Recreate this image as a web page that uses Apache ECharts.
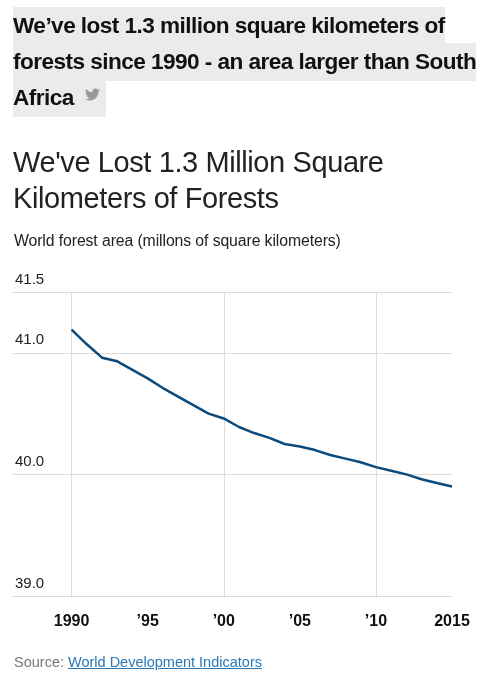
<!DOCTYPE html>
<html>
<head>
<meta charset="utf-8">
<script src="https://cdn.jsdelivr.net/npm/echarts@6/dist/echarts.min.js"></script>
<style>
  html, body { margin: 0; padding: 0; background: #fff; }
  #wrap { position: relative; width: 490px; height: 680px; overflow: hidden; font-family: "Liberation Sans", Arial, sans-serif; }
  #chart { position: absolute; left: 0; top: 0; width: 490px; height: 680px; }
  .hl { position: absolute; left: 13px; top: 8px; width: 476px; font-weight: bold; font-size: 22.6px; line-height: 36px; letter-spacing: -0.55px; color: #111; }
  .hl span { background: #ebebeb; padding: 6px 0 7px 0; box-decoration-break: clone; -webkit-box-decoration-break: clone; }
  .hl svg { vertical-align: 4px; margin-left: 6px; }
  .ttl { position: absolute; left: 13px; top: 144px; font-size: 29px; line-height: 36px; color: #222; font-weight: 300; letter-spacing: -0.4px; }
  .sub { position: absolute; left: 14px; top: 232px; font-size: 15.8px; color: #222; letter-spacing: -0.1px; }
  .src { position: absolute; left: 14px; top: 654px; font-size: 14.5px; color: #777; }
  .src a { color: #2a78b5; text-decoration: underline; }
</style>
</head>
<body>
<div id="wrap">
  <div id="chart"></div>
  <div class="hl"><span>We’ve lost 1.3 million square kilometers of<br>forests since 1990 - an area larger than South<br>Africa <svg width="15" height="13" viewBox="0 0 24 20"><path fill="#999" d="M23.954 2.569c-.885.389-1.83.654-2.825.775 1.014-.611 1.794-1.574 2.163-2.723-.951.555-2.005.959-3.127 1.184-.896-.959-2.173-1.559-3.591-1.559-2.717 0-4.92 2.203-4.92 4.917 0 .39.045.765.127 1.124C7.691 6.094 4.066 4.13 1.640 1.161c-.427.722-.666 1.561-.666 2.475 0 1.71.87 3.213 2.188 4.096-.807-.026-1.566-.248-2.228-.616v.061c0 2.385 1.693 4.374 3.946 4.827-.413.111-.849.171-1.296.171-.314 0-.615-.03-.916-.086.631 1.953 2.445 3.377 4.604 3.417-1.68 1.319-3.809 2.105-6.102 2.105-.39 0-.779-.023-1.17-.067 2.189 1.394 4.768 2.209 7.557 2.209 9.054 0 13.999-7.496 13.999-13.986 0-.209 0-.42-.015-.63.961-.689 1.8-1.56 2.46-2.548z"/></svg>&nbsp;</span></div>
  <div class="ttl">We've Lost 1.3 Million Square<br>Kilometers of Forests</div>
  <div class="sub">World forest area (millons of square kilometers)</div>
  <div class="src">Source: <a>World Development Indicators</a></div>
</div>
<script>
// world forest area, millions of km2
var years = [1990, 1991, 1992, 1993, 1994, 1995, 1996, 1997, 1998, 1999, 2000, 2001, 2002,
             2003, 2004, 2005, 2006, 2007, 2008, 2009, 2010, 2011, 2012, 2013, 2014, 2015];
var forest = [41.19, 41.07, 40.96, 40.93, 40.86, 40.79, 40.71, 40.64, 40.57, 40.50, 40.46, 40.39, 40.34,
              40.30, 40.25, 40.23, 40.20, 40.16, 40.13, 40.10, 40.06, 40.03, 40.00, 39.96, 39.93, 39.90];
var xLabelYears = [1990, 1995, 2000, 2005, 2010, 2015];
var xGridYears = [1990, 2000, 2010];
var yTicks = [39, 40, 41, 41.5];

var myChart = echarts.init(document.getElementById('chart'));
var seriesData = [];
years.forEach(function (y, i) {
    seriesData.push([y, forest[i]]);
});
var gridColor = '#dcdcdc';
var option = {
    animation: false,
    grid: { left: 13, right: 38, top: 292, bottom: 84 },
    xAxis: {
        type: 'value',
        min: 1986.15,
        max: 2015,
        axisLine: { show: false },
        axisTick: { show: false, customValues: xGridYears },
        splitLine: { show: true, lineStyle: { color: gridColor, width: 1 } },
        axisLabel: {
            customValues: xLabelYears,
            margin: 18,
            fontFamily: 'Liberation Sans',
            fontWeight: 'bold',
            fontSize: 16,
            color: '#111',
            formatter: function (v) {
                if (v == 1990 || v == 2015) return String(v);
                return '\u2019' + String(v).slice(2);
            }
        }
    },
    yAxis: {
        type: 'value',
        min: 39,
        max: 41.5,
        axisLine: { show: false },
        axisTick: { show: false, customValues: yTicks },
        splitLine: { show: true, lineStyle: { color: gridColor, width: 1 } },
        axisLabel: {
            customValues: yTicks,
            inside: true,
            margin: 2,
            verticalAlign: 'bottom',
            padding: [0, 0, 5, 0],
            fontFamily: 'Liberation Sans',
            fontSize: 15,
            color: '#222',
            formatter: function (v) { return v.toFixed(1); }
        }
    },
    series: [{
        type: 'line',
        data: seriesData,
        symbol: 'none',
        lineStyle: { color: '#0b4a7d', width: 2.5 }
    }]
};
myChart.setOption(option);
</script>
</body>
</html>
